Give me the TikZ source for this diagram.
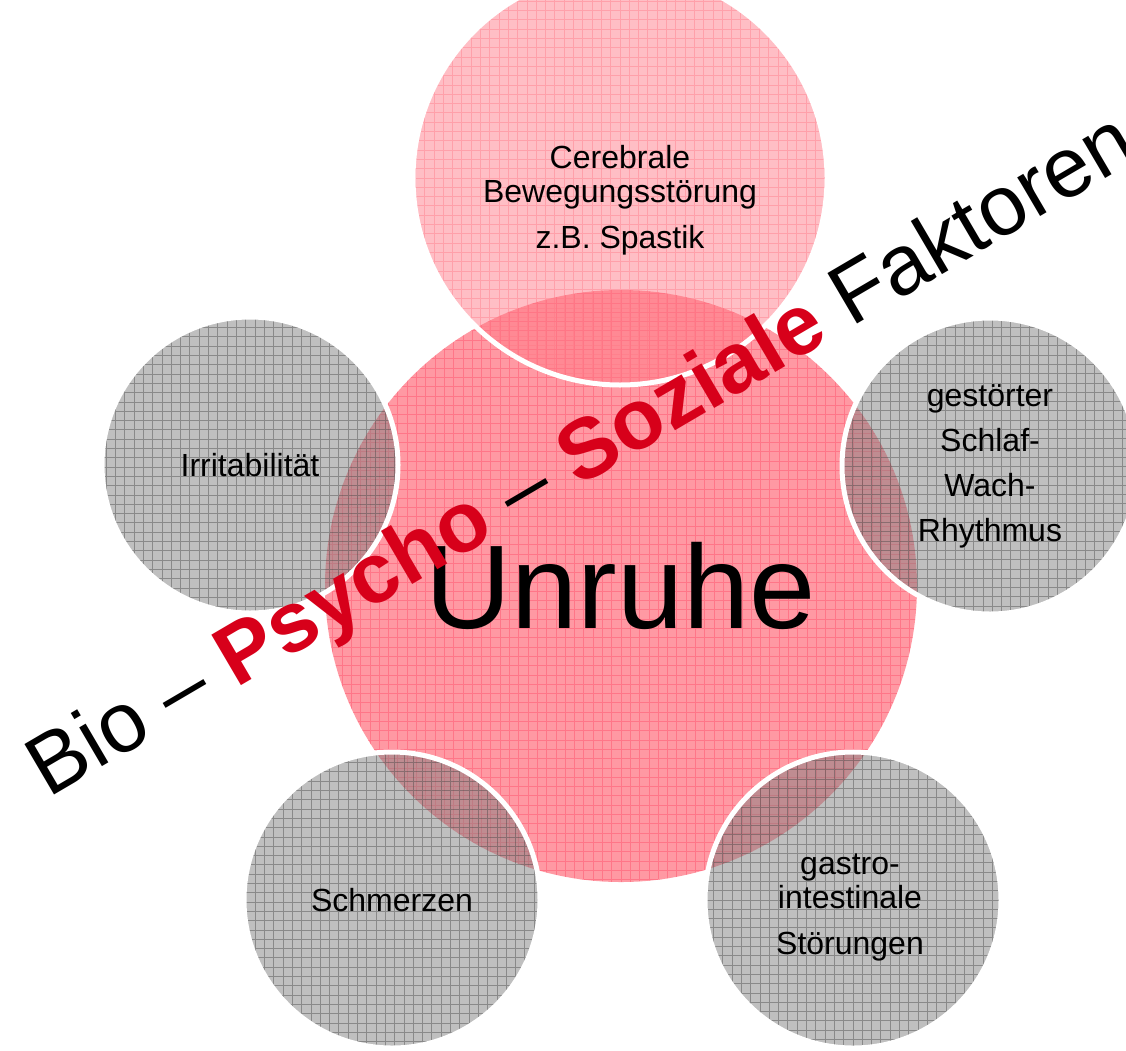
\documentclass[tikz,border=0pt]{standalone}
\usepackage{fontspec}
\setmainfont{Liberation Sans}
\usepackage{xcolor}
\usetikzlibrary{positioning}

\definecolor{rosa}{RGB}{255,120,133}
\definecolor{rosadunkel}{RGB}{255,70,100}
\definecolor{grau}{RGB}{128,128,128}
\definecolor{graudunkel}{RGB}{64,64,64}
\definecolor{rot}{RGB}{215,0,26}

\begin{document}
\begin{tikzpicture}[x=1pt, y=-1pt,
  gitter/.style={path picture={\draw[#1, draw opacity=0.42, line width=1pt, step=9.3pt]
      (path picture bounding box.south west) grid (path picture bounding box.north east);}},
  kern/.style={circle, fill=rosa, fill opacity=0.75, text opacity=1, minimum size=592pt,
    inner sep=0pt, gitter=rosadunkel, font=\fontsize{119}{122}\selectfont},
  ursache/.style={circle, draw=white, line width=5pt, fill opacity=0.5, text opacity=1,
    minimum size=296pt, inner sep=0pt, align=center, font=\fontsize{32}{34}\selectfont},
  faktor/.style={ursache, fill=grau, gitter=graudunkel},
  beschriftung/.style={align=center, font=\fontsize{32}{34}\selectfont}]
  \useasboundingbox[fill=white] (0,0) rectangle (1126,1050);
  \node[kern] (unruhe) at (621,586) {Unruhe};
  \node[ursache, fill=rosa, fill opacity=0.475, gitter=rosa, minimum size=414pt] (cereb) at (620,178) {};
  \node[beschriftung, yshift=-22pt] (cereb-txt) at (cereb) {Cerebrale\\Bewegungsstörung\\[12pt]z.B. Spastik};
  \node[faktor] (irrit) at (250,465) {Irritabilität};
  \node[faktor] (schlaf) at (990,466) {gestörter\\[11pt]Schlaf-\\[11pt]Wach-\\[11pt]Rhythmus};
  \node[faktor] (schmerz) at (392,900) {Schmerzen};
  \node[faktor] (gastro) at (853,900) {};
  \node[beschriftung, xshift=-3pt, yshift=-7pt] (gastro-txt) at (gastro) {gastro-\\intestinale\\[12pt]Störungen};
  \node[rotate=30.4, anchor=base, inner sep=0pt, font=\fontsize{85}{90}\selectfont] (bps) at (595,478)
    {Bio -- \textcolor{rot}{\textbf{Psycho}} -- \textcolor{rot}{\textbf{Soziale}} Faktoren};
\end{tikzpicture}
\end{document}
